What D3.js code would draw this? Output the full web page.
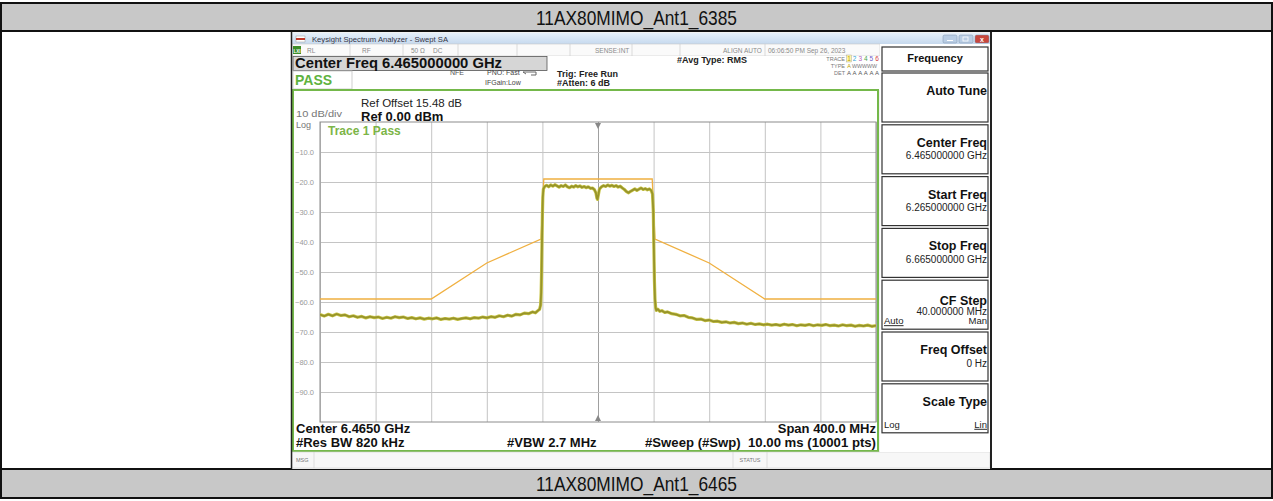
<!DOCTYPE html>
<html lang="en">
<head>
<meta charset="utf-8">
<title>11AX80MIMO_Ant1_6385</title>
<script src="https://cdn.jsdelivr.net/npm/d3@7/dist/d3.min.js"></script>
<style>
body { margin: 0; background: #fff; }
svg text { font-family: "Liberation Sans", Arial, sans-serif; }
</style>
</head>
<body>
<div id="chart"></div>
<script>
// captions of the table rows
var titleTop = '11AX80MIMO_Ant1_6385';
var titleBottom = '11AX80MIMO_Ant1_6465';

// analyzer settings (MHz)
var centerMHz = 6465, spanMHz = 400;
var xDivs = [-200, -160, -120, -80, -40, 0, 40, 80, 120, 160, 200];
var yTicks = [-10, -20, -30, -40, -50, -60, -70, -80, -90];

// trace 1, offset from centre (MHz) and level (dBm)
var traceMHz = [-200, -197, -194, -191, -188, -185, -182, -179, -176, -173, -170, -167, -164, -161, -158, -155, -152, -149, -146, -143,
  -140, -137, -134, -131, -128, -125, -122, -119, -116, -113, -110, -107, -104, -101, -98, -95, -92, -89, -86, -83,
  -80, -77, -74, -71, -68, -65, -62, -59, -56, -53, -50, -47, -45, -43, -42, -41.3, -40.9, -40.6, -40.3, -40, -39.7, -39.3, -38.5,
  -37, -35.5, -34, -32.5, -31, -29.5, -28, -26.5, -25, -23.5, -22, -20.5, -19, -17.5, -16, -14.5, -13, -11.5, -10, -8.5,
  -7, -5.5, -4, -2.5, -1.5, -0.8, -0.3, 0.3, 1, 2.5, 4, 5.5, 7, 8.5, 10, 11.5, 13, 14.5, 16, 17.5, 19, 20.5, 22, 23.5,
  25, 26.5, 28, 29.5, 31, 32.5, 34, 35.5, 37, 38.3, 39.2, 39.8, 40.2, 40.6, 41, 41.5, 42,
  43, 44.5, 46, 48, 50, 53, 56, 59, 62, 65, 68, 71, 74, 77, 80, 83, 86, 89, 92, 95, 98, 101, 104, 107, 110, 113, 116, 119,
  122, 125, 128, 131, 134, 137, 140, 143, 146, 149, 152, 155, 158, 161, 164, 167, 170, 173, 176, 179, 182, 185, 188, 191, 194, 197, 200];
var traceDbm = [-64.2, -64.7, -64.1, -64.6, -64.0, -64.5, -64.3, -64.9, -64.6, -65.1, -64.8, -65.3, -64.9, -65.2, -65.0, -65.5, -65.1, -65.4, -64.9, -65.2,
  -65.0, -65.5, -65.2, -65.6, -65.3, -65.7, -65.4, -65.6, -65.3, -65.8, -65.5, -65.7, -65.4, -65.8, -65.5, -65.3, -65.6, -65.2, -65.4, -65.0,
  -65.3, -64.9, -65.1, -64.6, -64.9, -64.4, -64.7, -64.1, -64.3, -63.7, -63.9, -63.3, -63.6, -62.8, -62.4, -61, -57, -50, -40, -31, -25, -22.4, -21.6,
  -21.1, -21.6, -21.0, -21.4, -20.9, -21.3, -21.7, -21.2, -21.5, -21.0, -21.6, -21.9, -21.4, -21.7, -21.2, -21.6, -21.3, -21.8, -21.5, -21.9,
  -21.6, -22.1, -22.0, -22.6, -23.6, -25.4, -25.8, -24.2, -22.4, -21.6, -21.2, -21.5, -21.0, -21.4, -21.1, -21.5, -21.2, -21.7, -21.4, -22.0, -22.5, -23.2, -23.6, -23.1,
  -22.7, -22.3, -22.8, -22.4, -22.0, -22.5, -22.2, -22.6, -22.3, -22.8, -24, -30, -42, -53, -59, -62, -62.8,
  -62.4, -63.1, -62.9, -63.5, -63.3, -63.9, -64.1, -64.6, -64.5, -65.1, -65.3, -65.8, -65.7, -66.2, -66.0, -66.5, -66.4, -66.8, -66.6, -67.0, -66.8, -67.2, -67.0, -67.4, -67.1, -67.5, -67.3, -67.6,
  -67.4, -67.7, -67.5, -67.8, -67.4, -67.7, -67.5, -67.9, -67.6, -67.8, -67.5, -67.9, -67.6, -67.8, -67.5, -67.9, -67.7, -68.0, -67.6, -67.9, -67.7, -68.1, -67.8, -68.0, -67.7, -68.1, -67.9];

// spectrum emission mask limit line
var limitMHz = [-200, -120, -80, -41, -39, 39, 41, 80, 120, 200];
var limitDbm = [-59, -59, -47, -39, -19, -19, -39, -47, -59, -59];

// soft keys on the right
var softkeyNames = ['Auto Tune', 'Center Freq', 'Start Freq', 'Stop Freq', 'CF Step', 'Freq Offset', 'Scale Type'];
var softkeyValues = ['', '6.465000000 GHz', '6.265000000 GHz', '6.665000000 GHz', '40.000000 MHz', '0 Hz', ''];

var W = 1273, H = 501;
var plot = { left: 320, right: 876, top: 122, bottom: 422 };

var svg = d3.select('#chart').append('svg')
  .attr('width', W).attr('height', H);

var defs = svg.append('defs');
var grad = defs.append('linearGradient').attr('id', 'tbar').attr('x1', 0).attr('y1', 0).attr('x2', 0).attr('y2', 1);
grad.append('stop').attr('offset', '0%').attr('stop-color', '#e6f0fa');
grad.append('stop').attr('offset', '100%').attr('stop-color', '#c6d9ee');
defs.append('clipPath').attr('id', 'plotclip').append('rect')
  .attr('x', plot.left).attr('y', plot.top)
  .attr('width', plot.right - plot.left).attr('height', plot.bottom - plot.top);

/* ---- outer table ---- */
svg.append('rect').attr('width', W).attr('height', H).attr('fill', '#fff');
svg.append('rect').attr('x', 1).attr('y', 3).attr('width', W - 2).attr('height', 28).attr('fill', '#c8c8c8');
svg.append('rect').attr('x', 1).attr('y', 469).attr('width', W - 2).attr('height', 29).attr('fill', '#c8c8c8');
[3, 31, 469, 498].forEach(function(y) {
  svg.append('line').attr('x1', 0).attr('x2', W).attr('y1', y).attr('y2', y)
    .attr('stroke', '#111').attr('stroke-width', 2);
});
[1, W - 1].forEach(function(x) {
  svg.append('line').attr('x1', x).attr('x2', x).attr('y1', 2).attr('y2', 499)
    .attr('stroke', '#111').attr('stroke-width', 2);
});
svg.append('text').attr('x', W / 2).attr('y', 24.5).attr('text-anchor', 'middle')
  .attr('font-size', 21).attr('textLength', 201).attr('lengthAdjust', 'spacingAndGlyphs')
  .attr('fill', '#111').text(titleTop);
svg.append('text').attr('x', W / 2).attr('y', 491).attr('text-anchor', 'middle')
  .attr('font-size', 21).attr('textLength', 201).attr('lengthAdjust', 'spacingAndGlyphs')
  .attr('fill', '#111').text(titleBottom);

/* ---- analyzer window ---- */
var win = svg.append('g');
win.append('rect').attr('x', 291).attr('y', 32).attr('width', 700).attr('height', 437).attr('fill', '#f2f2f2');
win.append('rect').attr('x', 292).attr('y', 33).attr('width', 698).attr('height', 11).attr('fill', 'url(#tbar)');
// title bar icon + text
win.append('rect').attr('x', 296).attr('y', 36).attr('width', 9).attr('height', 6).attr('fill', '#fff').attr('stroke', '#999').attr('stroke-width', 0.5);
win.append('rect').attr('x', 296).attr('y', 38).attr('width', 9).attr('height', 2).attr('fill', '#c0392b');
win.append('text').attr('x', 312).attr('y', 41.5).attr('font-size', 6.5).attr('fill', '#334')
  .attr('textLength', 136).attr('lengthAdjust', 'spacingAndGlyphs').text('Keysight Spectrum Analyzer - Swept SA');
// window buttons
[[943, '#b9cde4'], [959, '#b9cde4'], [975, '#c8473d']].forEach(function(b) {
  win.append('rect').attr('x', b[0]).attr('y', 35).attr('width', 14).attr('height', 8).attr('rx', 1.5)
    .attr('fill', b[1]).attr('stroke', '#7d93ad').attr('stroke-width', 0.5);
});
win.append('line').attr('x1', 947).attr('x2', 953).attr('y1', 40.5).attr('y2', 40.5).attr('stroke', '#fff');
win.append('rect').attr('x', 963).attr('y', 37).attr('width', 5).attr('height', 4).attr('fill', 'none').attr('stroke', '#fff').attr('stroke-width', 0.8);
win.append('text').attr('x', 982).attr('y', 41.5).attr('text-anchor', 'middle').attr('font-size', 7).attr('font-weight', 'bold').attr('fill', '#fff').text('x');

// status row
win.append('rect').attr('x', 292).attr('y', 44).attr('width', 588).attr('height', 12).attr('fill', '#fafafa').attr('stroke', '#c8c8c8').attr('stroke-width', 0.6);
[350, 403, 458, 517, 570, 632, 680, 765].forEach(function(x) {
  win.append('line').attr('x1', x).attr('x2', x).attr('y1', 44).attr('y2', 56).attr('stroke', '#c8c8c8').attr('stroke-width', 0.6);
});
win.append('rect').attr('x', 293).attr('y', 46).attr('width', 8).attr('height', 8).attr('fill', '#3e8f2a');
win.append('text').attr('x', 297).attr('y', 52.5).attr('text-anchor', 'middle').attr('font-size', 4.5).attr('font-weight', 'bold').attr('fill', '#fff').text('LXI');
[['RL', 307], ['RF', 362], ['50 Ω', 411], ['DC', 433], ['SENSE:INT', 595], ['ALIGN AUTO', 723], ['06:06:50 PM Sep 26, 2023', 768]].forEach(function(s) {
  win.append('text').attr('x', s[1]).attr('y', 53).attr('font-size', 6.5).attr('fill', '#8a8a8a').text(s[0]);
});

// header area
win.append('rect').attr('x', 292).attr('y', 56).attr('width', 588).attr('height', 34).attr('fill', '#fff');
win.append('rect').attr('x', 293).attr('y', 56.5).attr('width', 254).attr('height', 14).attr('fill', '#d6d6d6').attr('stroke', '#555').attr('stroke-width', 0.8);
win.append('text').attr('x', 295).attr('y', 68).attr('font-size', 14).attr('font-weight', 'bold').attr('fill', '#111')
  .attr('textLength', 207).attr('lengthAdjust', 'spacingAndGlyphs').text('Center Freq 6.465000000 GHz');
win.append('rect').attr('x', 293).attr('y', 71).attr('width', 59).attr('height', 18).attr('fill', '#fff').attr('stroke', '#c4c4c4').attr('stroke-width', 0.8);
win.append('text').attr('x', 295).attr('y', 85).attr('font-size', 14).attr('font-weight', 'bold').attr('fill', '#5fb33f').text('PASS');
win.append('text').attr('x', 450).attr('y', 75).attr('font-size', 7).attr('fill', '#555').text('NFE');
win.append('text').attr('x', 487).attr('y', 75).attr('font-size', 7).attr('fill', '#444').text('PNO: Fast');
win.append('text').attr('x', 485).attr('y', 85).attr('font-size', 7).attr('fill', '#444').text('IFGain:Low');
win.append('path').attr('d', 'M523,72 h13 v3 h-5 M526,74 l-3,-2').attr('fill', 'none').attr('stroke', '#666').attr('stroke-width', 1);
win.append('text').attr('x', 557).attr('y', 77).attr('font-size', 9).attr('font-weight', 'bold').attr('fill', '#222').text('Trig: Free Run');
win.append('text').attr('x', 557).attr('y', 85.5).attr('font-size', 9).attr('font-weight', 'bold').attr('fill', '#222').text('#Atten: 6 dB');
win.append('text').attr('x', 677).attr('y', 63).attr('font-size', 9).attr('font-weight', 'bold').attr('fill', '#222').text('#Avg Type: RMS');

// trace indicator
[['TRACE', 60.5], ['TYPE', 67.5], ['DET', 74.5]].forEach(function(t) {
  win.append('text').attr('x', 845).attr('y', t[1]).attr('text-anchor', 'end').attr('font-size', 5.5).attr('fill', '#777').text(t[0]);
});
win.append('rect').attr('x', 846.5).attr('y', 55).attr('width', 5).attr('height', 7).attr('fill', '#fff6a8').attr('stroke', '#999').attr('stroke-width', 0.4);
['#b8a000', '#31a8d6', '#b35fb8', '#47a647', '#6f61c9', '#d23b3b'].forEach(function(c, i) {
  win.append('text').attr('x', 849 + i * 5.6).attr('y', 60.5).attr('text-anchor', 'middle').attr('font-size', 6.5).attr('fill', c).text(String(i + 1));
  win.append('text').attr('x', 849 + i * 5.6).attr('y', 74.5).attr('text-anchor', 'middle').attr('font-size', 6).attr('fill', '#555').text('A');
});
win.append('text').attr('x', 849).attr('y', 67.5).attr('text-anchor', 'middle').attr('font-size', 5.5).attr('fill', '#b8a000').text('A');
win.append('text').attr('x', 852).attr('y', 67.5).attr('font-size', 5).attr('fill', '#777')
  .attr('textLength', 25).attr('lengthAdjust', 'spacingAndGlyphs').text('WWWWW');

/* ---- plot panel ---- */
win.append('rect').attr('x', 293).attr('y', 90).attr('width', 585).attr('height', 361)
  .attr('fill', '#fff').attr('stroke', '#74b84a').attr('stroke-width', 2);

win.append('text').attr('x', 361).attr('y', 107).attr('font-size', 10.5).attr('fill', '#222')
  .attr('textLength', 101).attr('lengthAdjust', 'spacingAndGlyphs').text('Ref Offset 15.48 dB');
win.append('text').attr('x', 361).attr('y', 120.5).attr('font-size', 13).attr('font-weight', 'bold').attr('fill', '#111').text('Ref 0.00 dBm');
win.append('text').attr('x', 296).attr('y', 117).attr('font-size', 9).attr('fill', '#777')
  .attr('textLength', 46).attr('lengthAdjust', 'spacingAndGlyphs').text('10 dB/div');
win.append('text').attr('x', 296).attr('y', 127.5).attr('font-size', 9).attr('fill', '#777').text('Log');

var x = d3.scaleLinear().domain([-spanMHz / 2, spanMHz / 2]).range([plot.left, plot.right]);
var y = d3.scaleLinear().domain([-100, 0]).range([plot.bottom, plot.top]);

// vertical grid
var gx = win.append('g').attr('transform', 'translate(0,' + plot.bottom + ')')
  .call(d3.axisBottom(x).tickValues(xDivs).tickSize(-(plot.bottom - plot.top)).tickFormat(''));
gx.select('.domain').remove();
gx.selectAll('line').attr('stroke', '#c4c4c4').attr('stroke-width', 1)
  .filter(function(d) { return d === 0; }).attr('stroke', '#a0a0a0');

// horizontal grid + dB labels
var gy = win.append('g').attr('transform', 'translate(' + plot.left + ',0)')
  .call(d3.axisLeft(y).tickValues(yTicks).tickSize(-(plot.right - plot.left)).tickPadding(6)
    .tickFormat(function(d) { return d3.format('.1f')(d); }));
gy.select('.domain').remove();
gy.selectAll('line').attr('stroke', '#c4c4c4').attr('stroke-width', 1);
gy.selectAll('text').attr('font-size', 7.5).attr('fill', '#9a9a9a')
  .attr('font-family', '"Liberation Sans", Arial, sans-serif');

win.append('rect').attr('x', plot.left).attr('y', plot.top)
  .attr('width', plot.right - plot.left).attr('height', plot.bottom - plot.top)
  .attr('fill', 'none').attr('stroke', '#8c8c8c').attr('stroke-width', 1);

// centre markers
win.append('path').attr('d', 'M' + (x(0) - 3) + ',' + (plot.top + 1) + ' h6 l-3,6 z').attr('fill', '#888');
win.append('path').attr('d', 'M' + (x(0) - 3) + ',' + (plot.bottom - 1) + ' h6 l-3,-6 z').attr('fill', '#888');

var clip = win.append('g').attr('clip-path', 'url(#plotclip)');

// limit line
var limitPts = limitMHz.map(function(f, i) { return [f, limitDbm[i]]; });
clip.append('path').datum(limitPts)
  .attr('d', d3.line().x(function(d) { return x(d[0]); }).y(function(d) { return y(d[1]); }))
  .attr('fill', 'none').attr('stroke', '#f0b040').attr('stroke-width', 1.3);

// trace
var tracePts = traceMHz.map(function(f, i) { return [f, traceDbm[i]]; });
var traceLine = d3.line().x(function(d) { return x(d[0]); }).y(function(d) { return y(d[1]); });
clip.append('path').datum(tracePts).attr('d', traceLine)
  .attr('fill', 'none').attr('stroke', '#c9c54a').attr('stroke-width', 3.2).attr('stroke-linejoin', 'round');
clip.append('path').datum(tracePts).attr('d', traceLine)
  .attr('fill', 'none').attr('stroke', '#97942a').attr('stroke-width', 1.8).attr('stroke-linejoin', 'round');

win.append('text').attr('x', 328).attr('y', 134.5).attr('font-size', 12).attr('font-weight', 'bold').attr('fill', '#7cb547').text('Trace 1 Pass');

// footer of the plot panel
win.append('text').attr('x', 296).attr('y', 432.5).attr('font-size', 13).attr('font-weight', 'bold').attr('fill', '#111').text('Center ' + (centerMHz / 1000).toFixed(4) + ' GHz');
win.append('text').attr('x', 296).attr('y', 447).attr('font-size', 13).attr('font-weight', 'bold').attr('fill', '#111').text('#Res BW 820 kHz');
win.append('text').attr('x', 507).attr('y', 447).attr('font-size', 13).attr('font-weight', 'bold').attr('fill', '#111').text('#VBW 2.7 MHz');
win.append('text').attr('x', 876).attr('y', 432.5).attr('text-anchor', 'end').attr('font-size', 13).attr('font-weight', 'bold').attr('fill', '#111').text('Span ' + spanMHz.toFixed(1) + ' MHz');
win.append('text').attr('x', 876).attr('y', 447).attr('text-anchor', 'end').attr('font-size', 13).attr('font-weight', 'bold').attr('fill', '#111')
  .attr('textLength', 231).attr('lengthAdjust', 'spacingAndGlyphs').attr('xml:space', 'preserve').text('#Sweep (#Swp)  10.00 ms (10001 pts)');

// message row
win.append('rect').attr('x', 292).attr('y', 452).attr('width', 698).attr('height', 16).attr('fill', '#f7f7f7').attr('stroke', '#d0d0d0').attr('stroke-width', 0.6);
[314, 733, 767].forEach(function(xx) {
  win.append('line').attr('x1', xx).attr('x2', xx).attr('y1', 452).attr('y2', 468).attr('stroke', '#cfcfcf').attr('stroke-width', 0.6);
});
win.append('text').attr('x', 296).attr('y', 462).attr('font-size', 5.5).attr('fill', '#777').text('MSG');
win.append('text').attr('x', 750).attr('y', 462).attr('text-anchor', 'middle').attr('font-size', 5.5).attr('fill', '#777').text('STATUS');

/* ---- soft key panel ---- */
win.append('rect').attr('x', 880).attr('y', 44).attr('width', 110).attr('height', 408).attr('fill', '#fff');
win.append('rect').attr('x', 882).attr('y', 47).attr('width', 106).attr('height', 24).attr('fill', '#fff').attr('stroke', '#333').attr('stroke-width', 1.2);
win.append('text').attr('x', 935).attr('y', 62).attr('text-anchor', 'middle').attr('font-size', 11).attr('font-weight', 'bold').attr('fill', '#111').text('Frequency');

var keyTop = 73, keyPitch = 51.8, keyH = 49;
var keys = win.selectAll('g.key').data(softkeyNames).enter().append('g').attr('class', 'key')
  .attr('transform', function(d, i) { return 'translate(0,' + (keyTop + i * keyPitch) + ')'; });
keys.append('rect').attr('x', 882).attr('y', 0).attr('width', 106).attr('height', keyH)
  .attr('fill', '#fff').attr('stroke', '#333').attr('stroke-width', 1.2);
keys.append('text').attr('x', 987).attr('y', function(d) { return d === 'CF Step' ? 25 : 22; })
  .attr('text-anchor', 'end').attr('font-size', 12.5).attr('font-weight', 'bold').attr('fill', '#111').text(function(d) { return d; });
keys.append('text').attr('x', 987).attr('y', 34.5)
  .attr('text-anchor', 'end').attr('font-size', 10).attr('fill', '#222').text(function(d, i) { return softkeyValues[i]; });

var cf = keys.filter(function(d) { return d === 'CF Step'; });
cf.append('text').attr('x', 884).attr('y', 44).attr('font-size', 9.5).attr('fill', '#222').attr('text-decoration', 'underline').text('Auto');
cf.append('text').attr('x', 987).attr('y', 44).attr('text-anchor', 'end').attr('font-size', 9.5).attr('fill', '#222').text('Man');
var st = keys.filter(function(d) { return d === 'Scale Type'; });
st.append('text').attr('x', 884).attr('y', 44).attr('font-size', 9.5).attr('fill', '#222').text('Log');
st.append('text').attr('x', 987).attr('y', 44).attr('text-anchor', 'end').attr('font-size', 9.5).attr('fill', '#222').attr('text-decoration', 'underline').text('Lin');

// window side borders
win.append('line').attr('x1', 291.5).attr('x2', 291.5).attr('y1', 32).attr('y2', 469).attr('stroke', '#222').attr('stroke-width', 1.5);
win.append('line').attr('x1', 991).attr('x2', 991).attr('y1', 32).attr('y2', 469).attr('stroke', '#222').attr('stroke-width', 2);
</script>
</body>
</html>
